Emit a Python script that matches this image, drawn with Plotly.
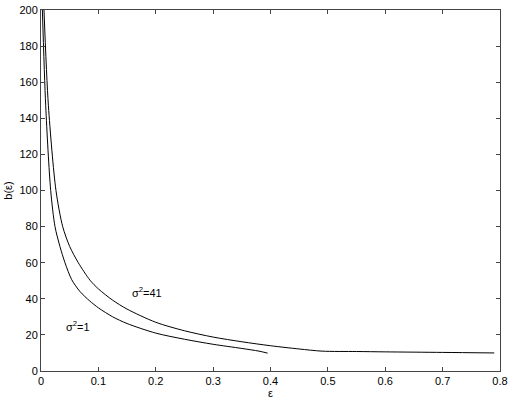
import plotly.graph_objects as go

# sigma^2 = 1 curve
eps_s1 = [0.0024, 0.0082, 0.0169, 0.0244, 0.033, 0.0418, 0.0535, 0.068, 0.085,
          0.1, 0.125, 0.15, 0.2, 0.25, 0.3, 0.35, 0.38, 0.395]
b_s1 = [200, 147, 100, 80, 69, 60, 50.6, 44, 38.8,
        35, 30, 26.3, 21, 17.6, 14.8, 12.5, 11.0, 9.9]

# sigma^2 = 41 curve
eps_s41 = [0.0052, 0.0129, 0.0261, 0.0378, 0.05, 0.065, 0.0854, 0.1, 0.125, 0.15,
           0.2, 0.25, 0.3, 0.35, 0.4, 0.45, 0.49, 0.55, 0.6, 0.7, 0.79]
b_s41 = [200, 147, 100, 80, 69, 60, 50.3, 45.5, 39.2, 34.3,
         27, 22.3, 18.8, 16.2, 14.0, 12.2, 11.0, 10.8, 10.6, 10.3, 10.0]

labels = ["σ<sup>2</sup>=1", "σ<sup>2</sup>=41"]
label_pos = [(0.065, 24.7), (0.185, 43.5)]

x_ticks = [0, 0.1, 0.2, 0.3, 0.4, 0.5, 0.6, 0.7, 0.8]
y_ticks = [0, 20, 40, 60, 80, 100, 120, 140, 160, 180, 200]

fig = go.Figure()
for xs, ys, name in [(eps_s1, b_s1, labels[0]), (eps_s41, b_s41, labels[1])]:
    fig.add_trace(go.Scatter(x=xs, y=ys, mode="lines", name=name,
                             line=dict(color="black", width=1, shape="spline", smoothing=0.8),
                             showlegend=False, hoverinfo="skip"))

for (lx, ly), txt in zip(label_pos, labels):
    fig.add_annotation(x=lx, y=ly, text=txt, showarrow=False,
                       font=dict(family="Liberation Sans, Arial", size=11, color="black"))

font = dict(family="Liberation Sans, Arial", size=11, color="black")
axis_common = dict(showline=True, linecolor="#444", linewidth=1, mirror="ticks",
                   ticks="inside", ticklen=4, tickcolor="#444", showgrid=False,
                   zeroline=False, tickfont=font, automargin=False)

fig.update_layout(
    width=511, height=402,
    margin=dict(l=41, r=11, t=10, b=31),
    paper_bgcolor="white", plot_bgcolor="white",
    font=font,
    xaxis=dict(range=[0, 0.8], tickvals=x_ticks,
               ticktext=[f"{v:g}" for v in x_ticks],
               title=dict(text="ε", font=font, standoff=2), **axis_common),
    yaxis=dict(range=[0, 200], tickvals=y_ticks,
               title=dict(text="b(ε)", font=font, standoff=4), **axis_common),
)

fig.write_html("out.html", config={"displayModeBar": False},
               post_script="document.body.style.margin='0';")
